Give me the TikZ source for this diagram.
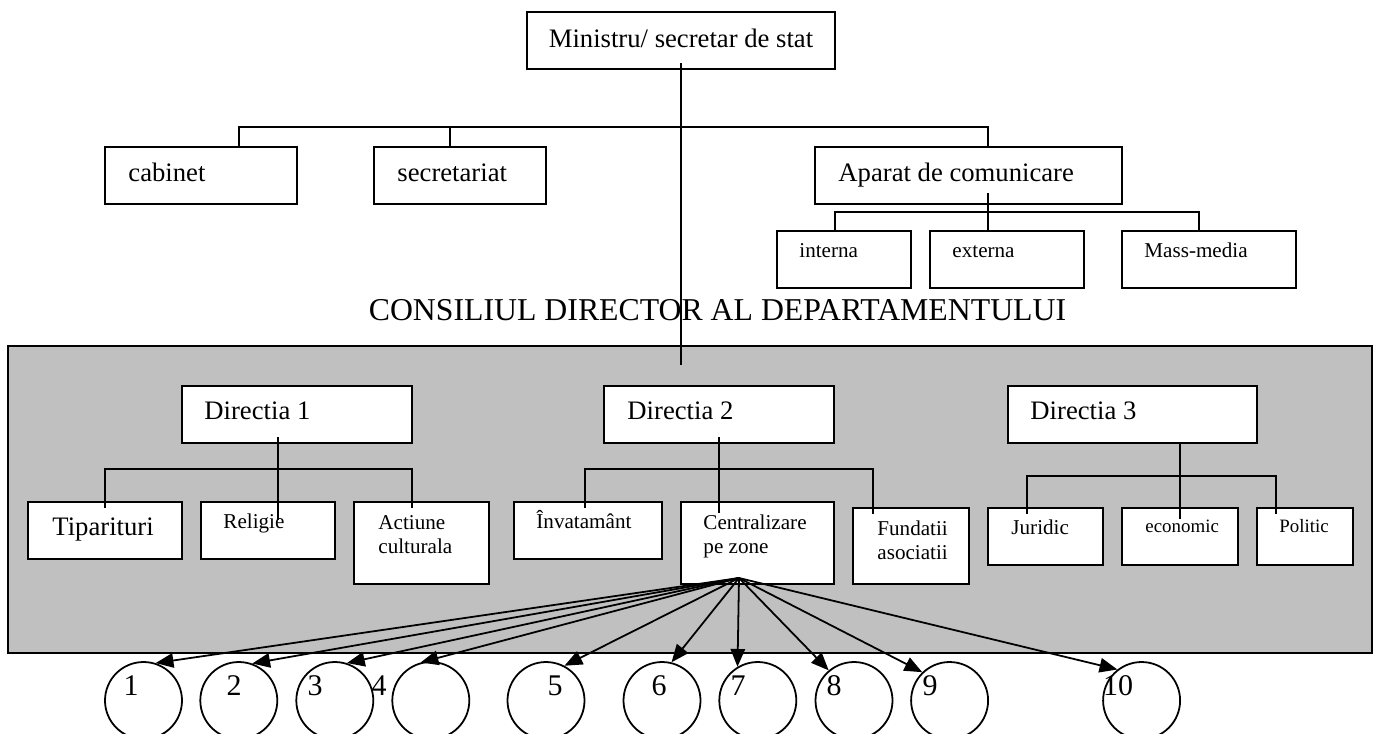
\documentclass[tikz,border=0pt]{standalone}
\usepackage{fontspec}
\setmainfont{Liberation Serif}
\usetikzlibrary{arrows.meta}
\newlength\px \setlength\px{0.45pt}
\definecolor{deptgray}{HTML}{C0C0C0}

\tikzset{
  box/.style={draw, fill=white, line width=0.8pt, inner sep=0pt},
  bx/.style 2 args={box, minimum width=#1*\px, minimum height=#2*\px},
  panel/.style={draw, fill=deptgray, line width=0.8pt, inner sep=0pt},
  txt/.style={anchor=base west, inner sep=0pt, font=\fontsize{12}{14}\selectfont},
  stxt/.style={anchor=base west, inner sep=0pt, align=left, font=\fontsize{9.5}{10.4}\selectfont},
  xstxt/.style={anchor=base west, inner sep=0pt, font=\fontsize{8.5}{10}\selectfont},
  zone/.style={draw, circle, line width=0.8pt, minimum size=77*\px, inner sep=0pt},
  num/.style={anchor=base, inner sep=0pt, font=\fontsize{13.5}{15}\selectfont},
  link/.style={line width=0.8pt},
  fan/.style={line width=0.8pt, -{Triangle[length=8pt,width=6.5pt]}}
}

\begin{document}
\begin{tikzpicture}[x=0.45pt,y=-0.45pt]
  \useasboundingbox (0,0) rectangle (1377,733);
  \clip (0,0) rectangle (1377,733);

  % department panel
  \node[panel, minimum width=1364*\px, minimum height=307*\px] (dept) at (690,499.5) {};
  \node[anchor=base, inner sep=0pt, font=\fontsize{14.3}{16}\selectfont] (tcons) at (717.5,320)
    {CONSILIUL DIRECTOR AL DEPARTAMENTULUI};

  % boxes
  \node[bx={308}{57}] (min) at (681,40.5) {};
  \node[bx={192}{57}] (cab) at (201,175.5) {};
  \node[bx={172}{57}] (sec) at (460,175.5) {};
  \node[bx={307}{57}] (apa) at (968.5,175.5) {};
  \node[bx={134}{57}] (int) at (844,259.5) {};
  \node[bx={154}{57}] (ext) at (1007,259.5) {};
  \node[bx={174}{57}] (mas) at (1209,259.5) {};

  \node[bx={230}{57}] (dir1) at (297,414.5) {};
  \node[bx={230}{57}] (dir2) at (719,414.5) {};
  \node[bx={249}{57}] (dir3) at (1132.5,414.5) {};

  \node[bx={154}{57}] (tip) at (105,530.5) {};
  \node[bx={134}{57}] (rel) at (268,530.5) {};
  \node[bx={135}{82}] (act) at (421.5,543) {};
  \node[bx={148}{57}] (inv) at (588,530.5) {};
  \node[bx={153}{82}] (cen) at (757.5,543) {};
  \node[bx={116}{76}] (fun) at (911,546) {};
  \node[bx={115}{57}] (jur) at (1045.5,536.5) {};
  \node[bx={116}{57}] (eco) at (1180,536.5) {};
  \node[bx={96}{57}] (pol) at (1305,536.5) {};

  % main line and top tree
  \coordinate (m1) at (681,63);
  \coordinate (m2) at (681,365);
  \draw[link] (m1) -- (m2);
  \coordinate (b0) at (239,127);
  \coordinate (b1) at (450,127);
  \coordinate (b2) at (988,127);
  \draw[link] (cab.north -| b0) -- (b0) -- (b2) -- (apa.north -| b2);
  \draw[link] (b1) -- (sec.north -| b1);
  \coordinate (a0) at (988,193);
  \coordinate (a1) at (835,212);
  \coordinate (a2) at (1199,212);
  \draw[link] (a0) -- (ext.north -| a0);
  \draw[link] (int.north -| a1) -- (a1) -- (a2) -- (mas.north -| a2);

  % directia trees
  \coordinate (d1a) at (278,437);
  \coordinate (d1b) at (278,520);
  \draw[link] (d1a) -- (d1b);
  \coordinate (d1l) at (105,508);
  \coordinate (d1r) at (412,508);
  \draw[link] (d1l) -- (105,469) -- (412,469) -- (d1r);

  \coordinate (d2a) at (719,437);
  \coordinate (d2b) at (719,513);
  \draw[link] (d2a) -- (d2b);
  \coordinate (d2l) at (585,508);
  \coordinate (d2r) at (873,514);
  \draw[link] (d2l) -- (585,469) -- (873,469) -- (d2r);

  \coordinate (d3b) at (1180,519);
  \draw[link] (dir3.south -| d3b) -- (d3b);
  \coordinate (d3l) at (1027,514);
  \coordinate (d3r) at (1276,514);
  \draw[link] (d3l) -- (1027,476) -- (1276,476) -- (d3r);

  % texts
  \node[txt, anchor=base] (tmin) at (681,47) {Ministru/ secretar de stat};
  \node[txt] (tcab) at (128,181) {cabinet};
  \node[txt] (tsec) at (397,181) {secretariat};
  \node[txt] (tapa) at (838,181) {Aparat de comunicare};
  \node[stxt] (tint) at (799,257) {interna};
  \node[stxt] (text) at (952,257) {externa};
  \node[stxt] (tmas) at (1144,257) {Mass-media};
  \node[txt] (td1) at (204,419) {Directia 1};
  \node[txt] (td2) at (627,419) {Directia 2};
  \node[txt] (td3) at (1030,419) {Directia 3};
  \node[txt] (ttip) at (52,535) {Tiparituri};
  \node[stxt] (trel) at (223,528) {Religie};
  \node[stxt] (tact) at (378,553) {Actiune\\culturala};
  \node[stxt] (tinv) at (536,528) {Învatamânt};
  \node[stxt] (tcen) at (703,553) {Centralizare\\pe zone};
  \node[stxt] (tfun) at (877,559) {Fundatii\\asociatii};
  \node[stxt] (tjur) at (1011,534) {Juridic};
  \node[xstxt] (teco) at (1145,532) {economic};
  \node[xstxt] (tpol) at (1279,532) {Politic};

  % zones
  \coordinate (src) at (739,578);
  \foreach \n/\x in {1/143.5,2/238.8,3/334.8,4/430.8,5/546,6/662,7/757.8,8/854,9/949.6,10/1141.6}
    \node[zone] (c\n) at (\x,700.5) {};
  \foreach \n/\x in {1/131,2/234,3/315,4/379,5/555,6/659,7/738,8/834,9/930,10/1118}
    \node[num] (n\n) at (\x,695) {\n};
  \foreach \n/\a in {1/72,2/70,3/72,4/105,5/62,6/76,7/121,8/130,9/134,10/128}
    \draw[fan] (src) -- (c\n.\a);
\end{tikzpicture}
\end{document}
